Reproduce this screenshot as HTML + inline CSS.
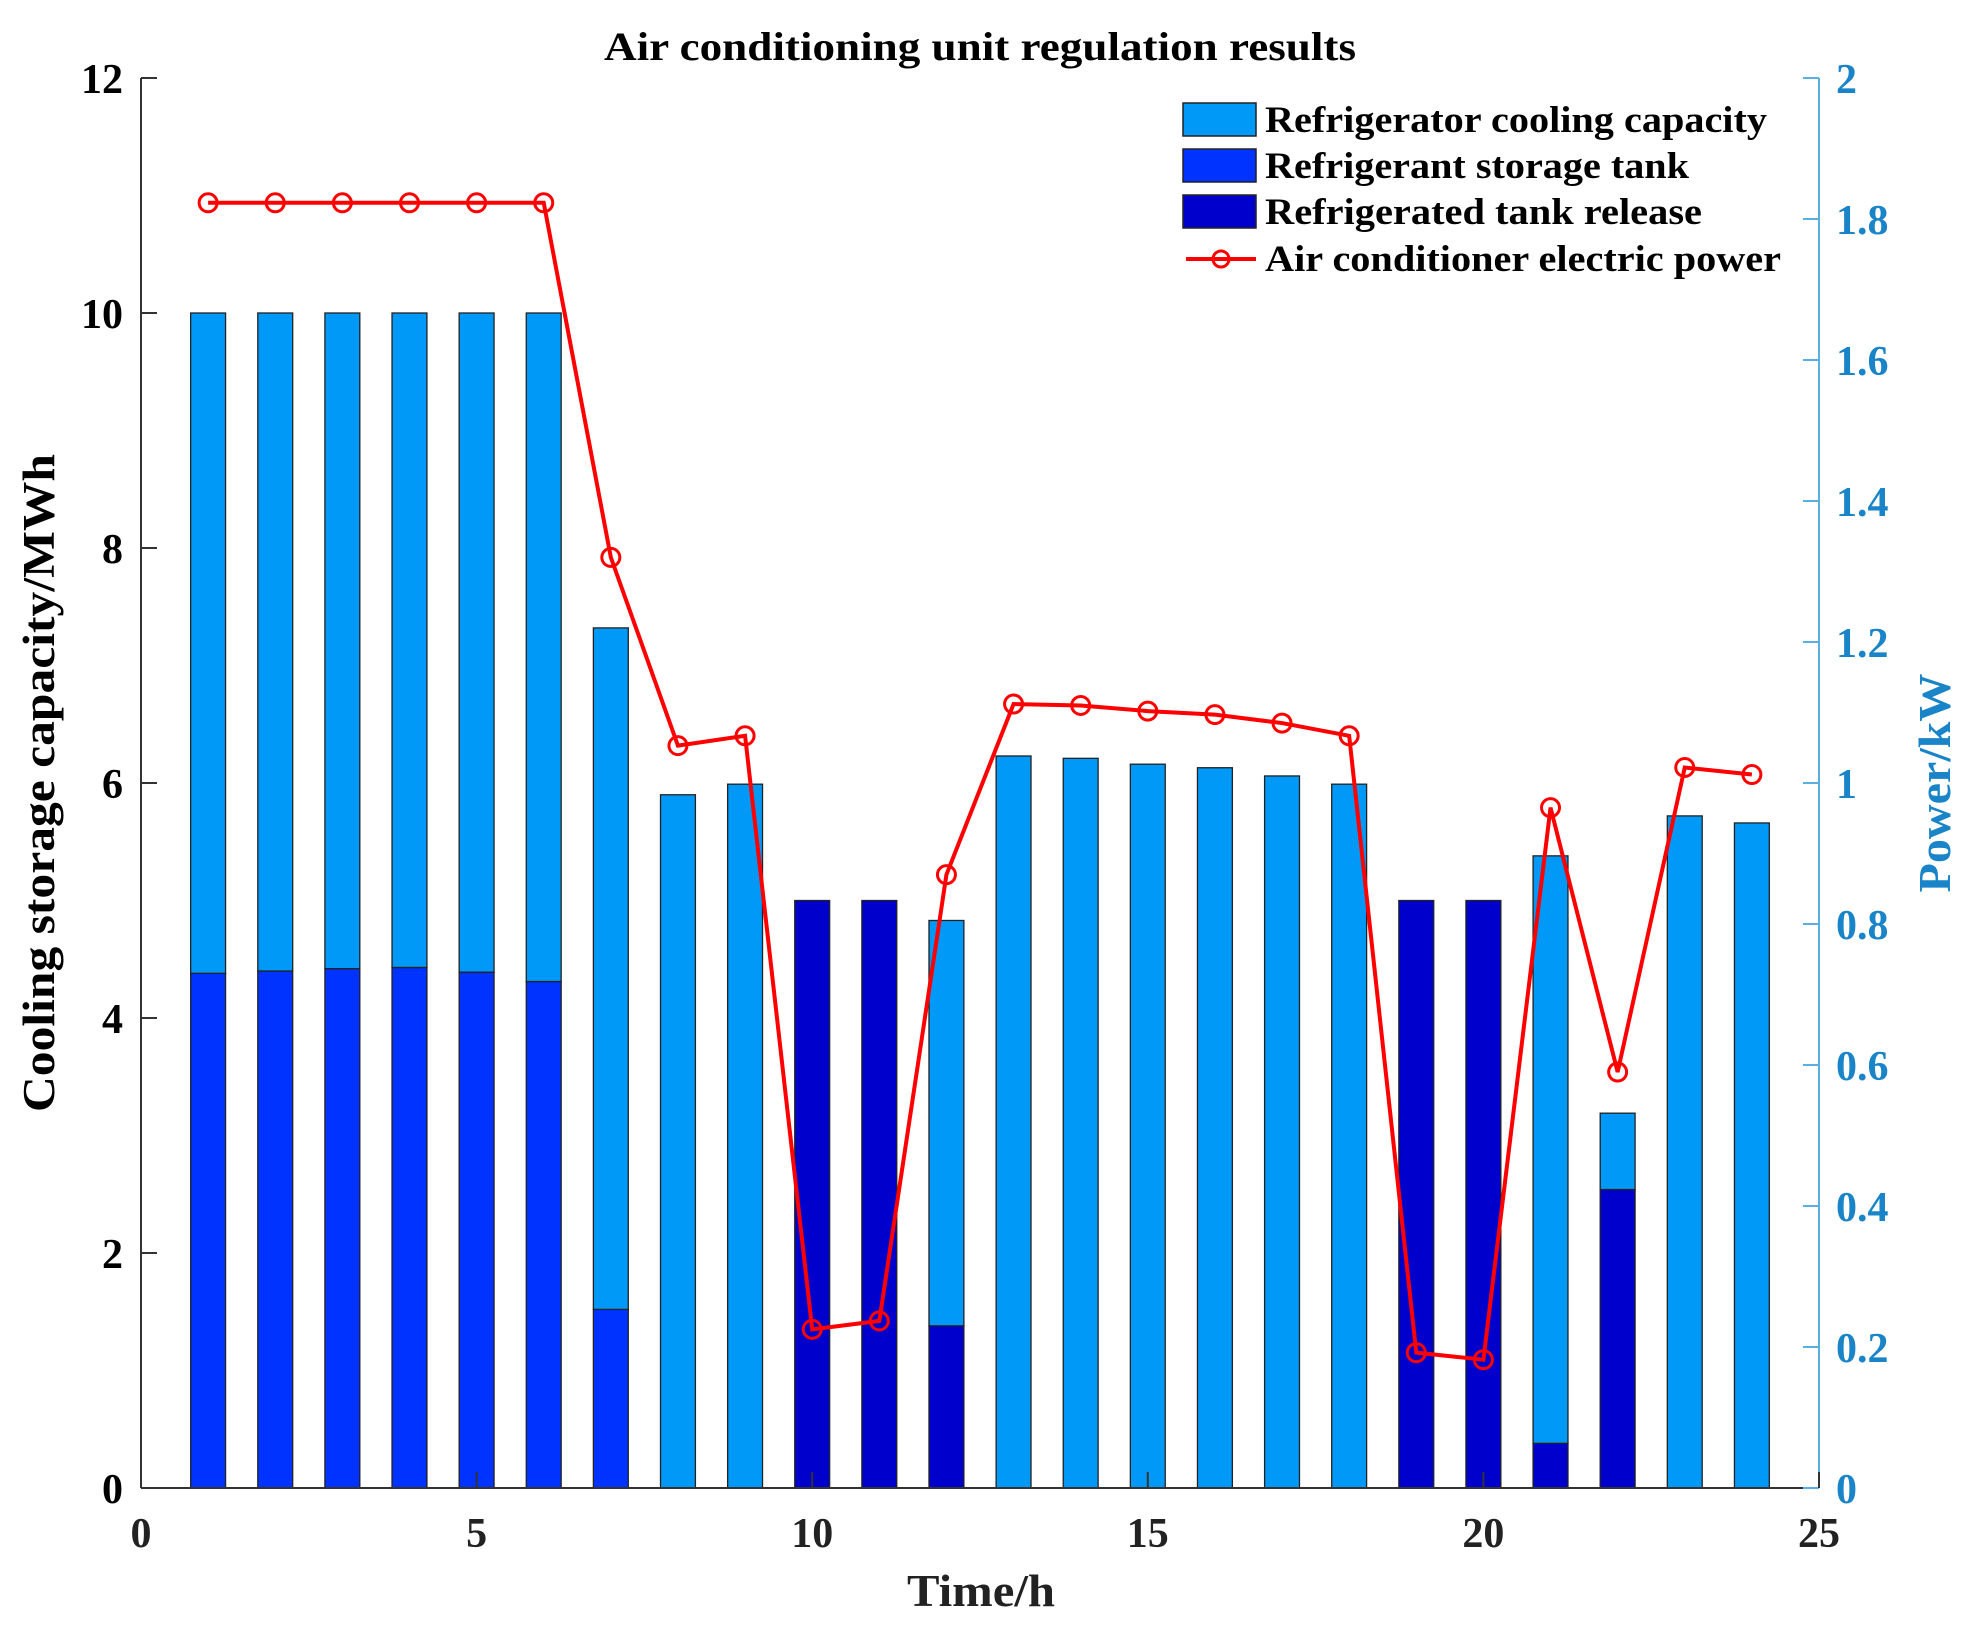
<!DOCTYPE html>
<html><head><meta charset="utf-8"><style>
html,body{margin:0;padding:0;background:#fff;}
svg{display:block;font-family:"Liberation Serif",serif;font-weight:bold;}
</style></head><body>
<svg id="chart" width="1969" height="1627" viewBox="0 0 1969 1627" xmlns="http://www.w3.org/2000/svg">
<text x="980" y="60" text-anchor="middle" font-size="40" textLength="752" lengthAdjust="spacingAndGlyphs">Air conditioning unit regulation results</text>
<g id="bars"></g>
<g id="axes"></g>
<g id="line"></g>
<text transform="translate(54,783) rotate(-90)" text-anchor="middle" font-size="45" textLength="658" lengthAdjust="spacingAndGlyphs">Cooling storage capacity/MWh</text>
<text transform="translate(1950,783) rotate(-90)" text-anchor="middle" font-size="45" textLength="219" lengthAdjust="spacingAndGlyphs" fill="#1a84c8">Power/kW</text>
<text x="981" y="1606" text-anchor="middle" font-size="45" textLength="148" lengthAdjust="spacingAndGlyphs" fill="#222">Time/h</text>
<g>
<rect x="1183" y="103" width="73" height="33" fill="#0099f7" stroke="#222" stroke-width="1.5"/>
<text x="1265" y="132" font-size="37" textLength="502" lengthAdjust="spacingAndGlyphs">Refrigerator cooling capacity</text>
<rect x="1183" y="149" width="73" height="33" fill="#0033ff" stroke="#222" stroke-width="1.5"/>
<text x="1265" y="178" font-size="37" textLength="424" lengthAdjust="spacingAndGlyphs">Refrigerant storage tank</text>
<rect x="1183" y="195" width="73" height="33" fill="#0000cc" stroke="#222" stroke-width="1.5"/>
<text x="1265" y="224" font-size="37" textLength="437" lengthAdjust="spacingAndGlyphs">Refrigerated tank release</text>
<line x1="1186" y1="259" x2="1256" y2="259" stroke="#ff0000" stroke-width="4"/>
<circle cx="1221" cy="259" r="8" fill="none" stroke="#ff0000" stroke-width="3"/>
<text x="1265" y="271" font-size="37" textLength="516" lengthAdjust="spacingAndGlyphs">Air conditioner electric power</text>
</g>
</svg>
<script>
const hours = [1,2,3,4,5,6,7,8,9,10,11,12,13,14,15,16,17,18,19,20,21,22,23,24];
const storageTank = [4.38,4.4,4.42,4.43,4.39,4.31,1.52,0,0,0,0,0,0,0,0,0,0,0,0,0,0,0,0,0];
const tankRelease = [0,0,0,0,0,0,0,0,0,5,5,1.38,0,0,0,0,0,0,5,5,0.38,2.54,0,0];
const coolingCapacity = [5.62,5.6,5.58,5.57,5.61,5.69,5.8,5.9,5.99,0,0,3.45,6.23,6.21,6.16,6.13,6.06,5.99,0,0,5.0,0.65,5.72,5.66];
const electricPower = [1.823,1.823,1.823,1.823,1.823,1.823,1.32,1.053,1.067,0.225,0.237,0.87,1.112,1.11,1.102,1.097,1.085,1.067,0.192,0.182,0.965,0.59,1.022,1.012];
const xTicks = [0,5,10,15,20,25];
const yTicks = [0,2,4,6,8,10,12];
const y2Ticks = [0,0.2,0.4,0.6,0.8,1,1.2,1.4,1.6,1.8,2];

const NS="http://www.w3.org/2000/svg";
const L=141,R=1819,T=78,B=1488;
const xs=v=>L+(v/25)*(R-L);
const ys=v=>B-(v/12)*(B-T);
const y2s=v=>B-(v/2)*(B-T);
function mk(tag,attrs,parent){const e=document.createElementNS(NS,tag);for(const k in attrs)e.setAttribute(k,attrs[k]);parent.appendChild(e);return e;}
const bars=document.getElementById('bars'),axes=document.getElementById('axes'),line=document.getElementById('line');
const bw=0.52*(R-L)/25;
hours.forEach((h,i)=>{
  let base=0;
  const segs=[[tankRelease[i],'#0000cc','release'],[storageTank[i],'#0033ff','storage'],[coolingCapacity[i],'#0099f7','cooling']];
  segs.forEach(s=>{
    if(s[0]<=0)return;
    const r=mk('rect',{x:xs(h)-bw/2,y:ys(base+s[0]),width:bw,height:ys(base)-ys(base+s[0]),fill:s[1],stroke:'#222','stroke-width':1.3},bars);
    
    
    base+=s[0];
  });
});
let a=mk('line',{x1:L,y1:T,x2:L,y2:B,stroke:'#333','stroke-width':2},axes);


a=mk('line',{x1:L,y1:B,x2:R,y2:B,stroke:'#333','stroke-width':2},axes);


a=mk('line',{x1:R,y1:T,x2:R,y2:B,stroke:'#5aaee0','stroke-width':2},axes);


yTicks.forEach(v=>{
  const t=mk('line',{x1:L,y1:ys(v),x2:L+16,y2:ys(v),stroke:'#333','stroke-width':2},axes);
  
  
  const tx=mk('text',{x:L-18,y:ys(v)+15,'text-anchor':'end','font-size':42},axes);
  tx.textContent=v;
  
  
});
y2Ticks.forEach(v=>{
  const t=mk('line',{x1:R,y1:y2s(v),x2:R-16,y2:y2s(v),stroke:'#5aaee0','stroke-width':2},axes);
  
  
  const tx=mk('text',{x:R+17,y:y2s(v)+15,'font-size':42,fill:'#1a84c8'},axes);
  tx.textContent=v;
  
  
});
xTicks.forEach(v=>{
  const t=mk('line',{x1:xs(v),y1:B,x2:xs(v),y2:B-16,stroke:'#333','stroke-width':2},axes);
  
  
  const tx=mk('text',{x:xs(v),y:B+59,'text-anchor':'middle','font-size':42,fill:'#222'},axes);
  tx.textContent=v;
  
  
});
const pts=hours.map((h,i)=>xs(h)+','+y2s(electricPower[i])).join(' ');
const pl=mk('polyline',{points:pts,fill:'none',stroke:'#ff0000','stroke-width':4},line);


hours.forEach((h,i)=>{
  const c=mk('circle',{cx:xs(h),cy:y2s(electricPower[i]),r:9,fill:'none',stroke:'#ff0000','stroke-width':3},line);
  
  
});
</script>
</body></html>
